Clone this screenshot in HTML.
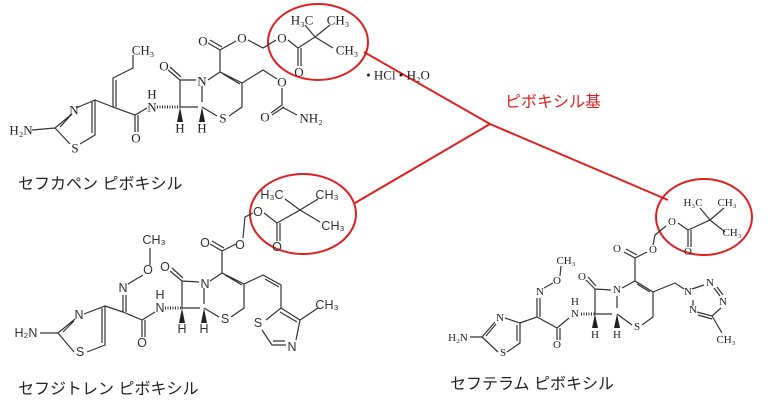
<!DOCTYPE html>
<html><head><meta charset="utf-8"><style>
html,body{margin:0;padding:0;background:#fff;width:768px;height:411px;overflow:hidden}
svg{display:block}
.b{stroke:#333;stroke-width:1.2;fill:none}
.a{font-family:"Liberation Serif",serif;font-size:13px;fill:#222;text-anchor:middle;dominant-baseline:central}
.s{font-family:"Liberation Sans",sans-serif;font-size:12.5px;fill:#333;text-anchor:middle;dominant-baseline:central}
.j{font-family:"Liberation Sans","Noto Sans CJK JP",sans-serif;font-size:16px;fill:#222}
.r{stroke:#e02020;stroke-width:2;fill:none}
</style></head><body>
<svg width="768" height="411" viewBox="0 0 768 411">
<ellipse class="r" cx="318" cy="42" rx="50" ry="38"/>
<ellipse class="r" cx="303" cy="214" rx="53" ry="40"/>
<ellipse class="r" cx="704" cy="217" rx="48" ry="38"/>
<path class="r" d="M364 52 L490 124 L668 200 M490 124 L355 203"/>
<text x="505" y="107" font-family="Liberation Sans,'Noto Sans CJK JP',sans-serif" font-size="16" fill="#e02020">ピボキシル基</text>

<g>
<path class="b" d="M32 130 L55 128 L72 114 M76 108 L95 100 L95 135 L80 144 M70 144 L55 128 M60 127 L71 115 M92 101 L92 133
M95 100 L113 107 L113 78 L133 68 L133 55 M116 107 L116 80
M113 107 L135 115 L135 132 M138 115 L138 132 M135 115 L147 108
M180 80 L180 107 L198 107 M168 70 L180 80 M170 67 L181 77 M180 80 L196 80 M202 86 L202 102 M208 80 L220 72 L242 83 L242 107 L229 116 M217 116 L202 107
M223 74 L240 84 M220 72 L220 50 L208 43 M222 47 L210 40 M220 50 L236 41 M248 40 L263 48 L276 40 M288 40 L298 48 L298 66 M301 48 L301 66 M298 48 L315 37 L305 25 M315 37 L330 25 M315 37 L333 48
M242 83 L263 70 L277 79 M282 88 L282 105 L271 113 M284 107 L272 115 M282 107 L297 115"/>
<path d="M157 107 L180 107" stroke="#333" stroke-width="3" stroke-dasharray="1 1.5"/>
<path d="M180 107 L177 122 L183 122 Z M202 107 L199 122 L205 122 Z" fill="#222"/>
<text class="a" x="21" y="130">H₂N</text><text class="a" x="74" y="110">N</text><text class="a" x="75" y="148">S</text>
<text class="a" x="143" y="50">CH₃</text><text class="a" x="136" y="138">O</text><text class="a" x="152" y="107">N</text><text class="a" x="152" y="94">H</text>
<text class="a" x="164" y="66">O</text><text class="a" x="202" y="81">N</text><text class="a" x="180" y="128">H</text><text class="a" x="202" y="128">H</text><text class="a" x="223" y="118">S</text>
<text class="a" x="203" y="41">O</text><text class="a" x="242" y="38">O</text><text class="a" x="282" y="38">O</text><text class="a" x="299" y="72">O</text>
<text class="a" x="302" y="20">H₃C</text><text class="a" x="338" y="20">CH₃</text><text class="a" x="347" y="50">CH₃</text>
<text class="a" x="282" y="82">O</text><text class="a" x="265" y="117">O</text><text class="a" x="311" y="118">NH₂</text>
<text class="a" x="398" y="75">• HCl • H₂O</text>
<text class="j" x="18" y="189">セフカペン ピボキシル</text>
</g>

<g>
<path class="b" d="M40 333 L58 333 L75 319 M84 314 L105 306 L105 345 L87 352 M74 352 L58 333 M63 332 L74 321 M102 308 L102 343
M105 306 L123 312 L123 295 M126 312 L126 295 M128 284 L143 275 M150 265 L150 248
M123 312 L142 320 L142 337 M145 320 L145 337 M142 320 L155 312
M182 281 L182 308 L200 308 M170 271 L182 281 M172 268 L183 278 M182 281 L199 282 M204 288 L204 304 M210 281 L222 273 L244 284 L244 308 L231 317 M219 317 L204 308
M225 275 L242 285 M222 273 L222 251 L210 244 M224 248 L212 241 M222 251 L236 244 M243 238 L245 217 L253 213 M264 213 L277 223 L277 241 M280 223 L280 241 M277 223 L300 210 L285 199 M300 210 L318 199 M300 210 L320 222
M244 284 L263 275 L281 285 L281 308 M265 279 L279 287 M281 308 L266 320 M262 330 L272 345 L286 345 M273 341 L285 341 M296 340 L300 320 L281 308 M297 322 L280 312 M300 320 L318 308"/>
<path d="M165 308 L182 308" stroke="#333" stroke-width="3" stroke-dasharray="1 1.5"/>
<path d="M182 308 L179 323 L185 323 Z M204 308 L201 323 L207 323 Z" fill="#222"/>
<text class="s" x="26" y="333">H₂N</text><text class="s" x="79" y="315">N</text><text class="s" x="80" y="352">S</text>
<text class="s" x="123" y="288">N</text><text class="s" x="148" y="270">O</text><text class="s" x="154" y="240">CH₃</text>
<text class="s" x="142" y="343">O</text><text class="s" x="160" y="308">N</text><text class="s" x="160" y="295">H</text>
<text class="s" x="165" y="267">O</text><text class="s" x="205" y="284">N</text><text class="s" x="182" y="329">H</text><text class="s" x="204" y="329">H</text><text class="s" x="225" y="319">S</text>
<text class="s" x="205" y="243">O</text><text class="s" x="240" y="245">O</text><text class="s" x="258" y="212">O</text><text class="s" x="277" y="247">O</text>
<text class="s" x="272" y="195">H₃C</text><text class="s" x="327" y="195">CH₃</text><text class="s" x="333" y="226">CH₃</text>
<text class="s" x="258" y="323">S</text><text class="s" x="292" y="347">N</text><text class="s" x="327" y="305">CH₃</text>
<text class="j" x="18" y="394">セフジトレン ピボキシル</text>
</g>

<g>
<path class="b" d="M470 337 L482 337 L495 322 M505 318 L520 323 L520 343 L507 352 M498 352 L482 337 M486 336 L496 324 M517 325 L517 341
M520 323 L537 317 L537 298 M540 317 L540 298 M544 288 L553 283 M560 276 L561 266
M537 317 L557 328 L557 340 M560 328 L560 340 M557 328 L569 318
M595 289 L595 314 L612 314 M586 280 L595 289 M588 277 L596 286 M595 289 L611 290 M617 296 L617 308 M622 288 L635 281 L653 292 L653 317 L642 325 M632 325 L617 314
M637 284 L650 292 M635 281 L635 258 L624 252 M637 255 L626 249 M635 258 L647 252 M653 245 L655 235 L666 226 M678 223 L688 230 L688 247 M691 230 L691 247 M688 230 L710 220 L700 208 M710 220 L724 208 M710 220 L725 232
M653 292 L675 283 L684 289 M692 289 L704 285 M693 300 L693 306 M714 288 L720 296 M717 287 L723 295 M721 308 L712 316 L697 312 M712 319 L698 315 M712 316 L722 333"/>
<path d="M581 314 L595 314" stroke="#333" stroke-width="3" stroke-dasharray="1 1.5"/>
<path d="M595 314 L592 328 L598 328 Z M617 314 L614 328 L620 328 Z" fill="#222"/>
<g style="font-size:11px">
<text class="a" style="font-size:11px" x="458" y="338">H₂N</text><text class="a" style="font-size:11px" x="500" y="318">N</text><text class="a" style="font-size:11px" x="503" y="353">S</text>
<text class="a" style="font-size:11px" x="540" y="292">N</text><text class="a" style="font-size:11px" x="557" y="281">O</text><text class="a" style="font-size:11px" x="566" y="261">CH₃</text>
<text class="a" style="font-size:11px" x="557" y="345">O</text><text class="a" style="font-size:11px" x="575" y="314">N</text><text class="a" style="font-size:11px" x="575" y="302">H</text>
<text class="a" style="font-size:11px" x="582" y="277">O</text><text class="a" style="font-size:11px" x="617" y="290">N</text><text class="a" style="font-size:11px" x="595" y="335">H</text><text class="a" style="font-size:11px" x="617" y="335">H</text><text class="a" style="font-size:11px" x="637" y="327">S</text>
<text class="a" style="font-size:11px" x="617" y="249">O</text><text class="a" style="font-size:11px" x="653" y="250">O</text><text class="a" style="font-size:11px" x="672" y="222">O</text><text class="a" style="font-size:11px" x="688" y="252">O</text>
<text class="a" style="font-size:11px" x="693" y="203">H₃C</text><text class="a" style="font-size:11px" x="727" y="203">CH₃</text><text class="a" style="font-size:11px" x="732" y="233">CH₃</text>
<text class="a" style="font-size:11px" x="688" y="292">N</text><text class="a" style="font-size:11px" x="710" y="283">N</text><text class="a" style="font-size:11px" x="723" y="302">N</text><text class="a" style="font-size:11px" x="693" y="310">N</text><text class="a" style="font-size:11px" x="726" y="340">CH₃</text>
</g>
<text class="j" x="450" y="389">セフテラム ピボキシル</text>
</g>
</svg>
</body></html>
